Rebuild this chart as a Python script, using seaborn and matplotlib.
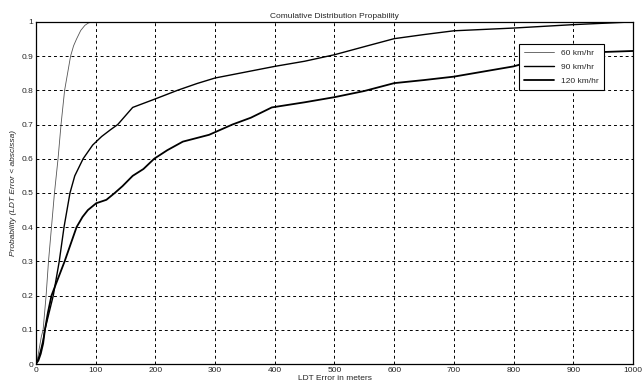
import matplotlib
matplotlib.use("Agg")
import matplotlib.pyplot as plt
import seaborn as sns
import pandas as pd

# (error in metres, cumulative probability)
x60 = [0, 3, 6, 9, 12, 17, 21, 26, 31, 34, 37, 42, 48, 53, 58, 63, 68, 75, 82, 88, 95, 200, 400, 600, 800, 1000]
p60 = [0, 0.02, 0.05, 0.08, 0.10, 0.20, 0.30, 0.40, 0.50, 0.55, 0.60, 0.70, 0.80, 0.85, 0.90, 0.93, 0.95, 0.975, 0.99, 0.997, 1.0, 1.0, 1.0, 1.0, 1.0, 1.0]

x90 = [0, 4, 8, 12, 15, 22, 29, 39, 47, 57, 65, 79, 95, 110, 125, 137, 162, 200, 237, 270, 300, 350, 400, 450, 500, 555, 600, 650, 700, 750, 800, 850, 900, 950, 1000]
p90 = [0, 0.015, 0.04, 0.07, 0.10, 0.15, 0.20, 0.30, 0.40, 0.50, 0.55, 0.60, 0.64, 0.665, 0.685, 0.70, 0.75, 0.775, 0.80, 0.82, 0.836, 0.853, 0.870, 0.885, 0.904, 0.930, 0.951, 0.963, 0.974, 0.978, 0.982, 0.987, 0.992, 0.996, 1.0]

x120 = [0, 4, 8, 12, 15, 20, 26, 37, 48, 58, 68, 78, 87, 101, 118, 132, 145, 162, 180, 198, 220, 246, 290, 329, 360, 395, 450, 500, 550, 600, 650, 700, 750, 800, 820, 830, 870, 900, 950, 1000]
p120 = [0, 0.01, 0.03, 0.06, 0.10, 0.15, 0.20, 0.25, 0.30, 0.35, 0.40, 0.43, 0.45, 0.47, 0.48, 0.50, 0.52, 0.55, 0.57, 0.60, 0.625, 0.65, 0.67, 0.70, 0.72, 0.75, 0.765, 0.78, 0.798, 0.821, 0.83, 0.840, 0.855, 0.870, 0.88, 0.904, 0.905, 0.908, 0.912, 0.915]

labels = ["60 km/hr", "90 km/hr", "120 km/hr"]
widths = [0.6, 1.0, 1.3]
colors = ["#555555", "black", "black"]

sns.set_style("white")
plt.rcParams['font.family'] = ['Liberation Sans', 'DejaVu Sans']

fig = plt.figure(figsize=(6.42, 3.91), dpi=100)
ax = fig.add_axes([0.056, 0.069, 0.930, 0.875])

for xs, ps, lab, lw, c in zip([x60, x90, x120], [p60, p90, p120], labels, widths, colors):
    df = pd.DataFrame({"x": xs, "p": ps})
    sns.lineplot(data=df, x="x", y="p", ax=ax, color=c, linewidth=lw, label=lab,
                 estimator=None, sort=False)

ax.set_xlim(0, 1000)
ax.set_ylim(0, 1)
ax.set_xticks(range(0, 1001, 100))
ax.set_yticks([i / 10 for i in range(11)])
ax.set_yticklabels(["0", "0.1", "0.2", "0.3", "0.4", "0.5", "0.6", "0.7", "0.8", "0.9", "1"])
ax.tick_params(labelsize=6, length=2, width=0.6, direction="in", pad=2)
ax.grid(True, color="black", linestyle=(0, (3, 3)), linewidth=0.7)
for s in ax.spines.values():
    s.set_color("black")
    s.set_linewidth(0.9)

ax.set_title("Comulative Distribution Propability", fontsize=6, pad=3)
ax.set_xlabel("LDT Error in meters", fontsize=6, labelpad=1)
ax.set_ylabel("Probability (LDT Error < abscissa)", fontsize=6, style="italic", labelpad=3)

leg = ax.legend(loc="upper right", bbox_to_anchor=(0.958, 0.948), fontsize=6, frameon=True,
                fancybox=False, edgecolor="black", handlelength=3.6, borderpad=0.6,
                labelspacing=0.75, framealpha=1, handletextpad=0.8)
leg.get_frame().set_linewidth(0.8)

fig.savefig("out.png", dpi=100)
